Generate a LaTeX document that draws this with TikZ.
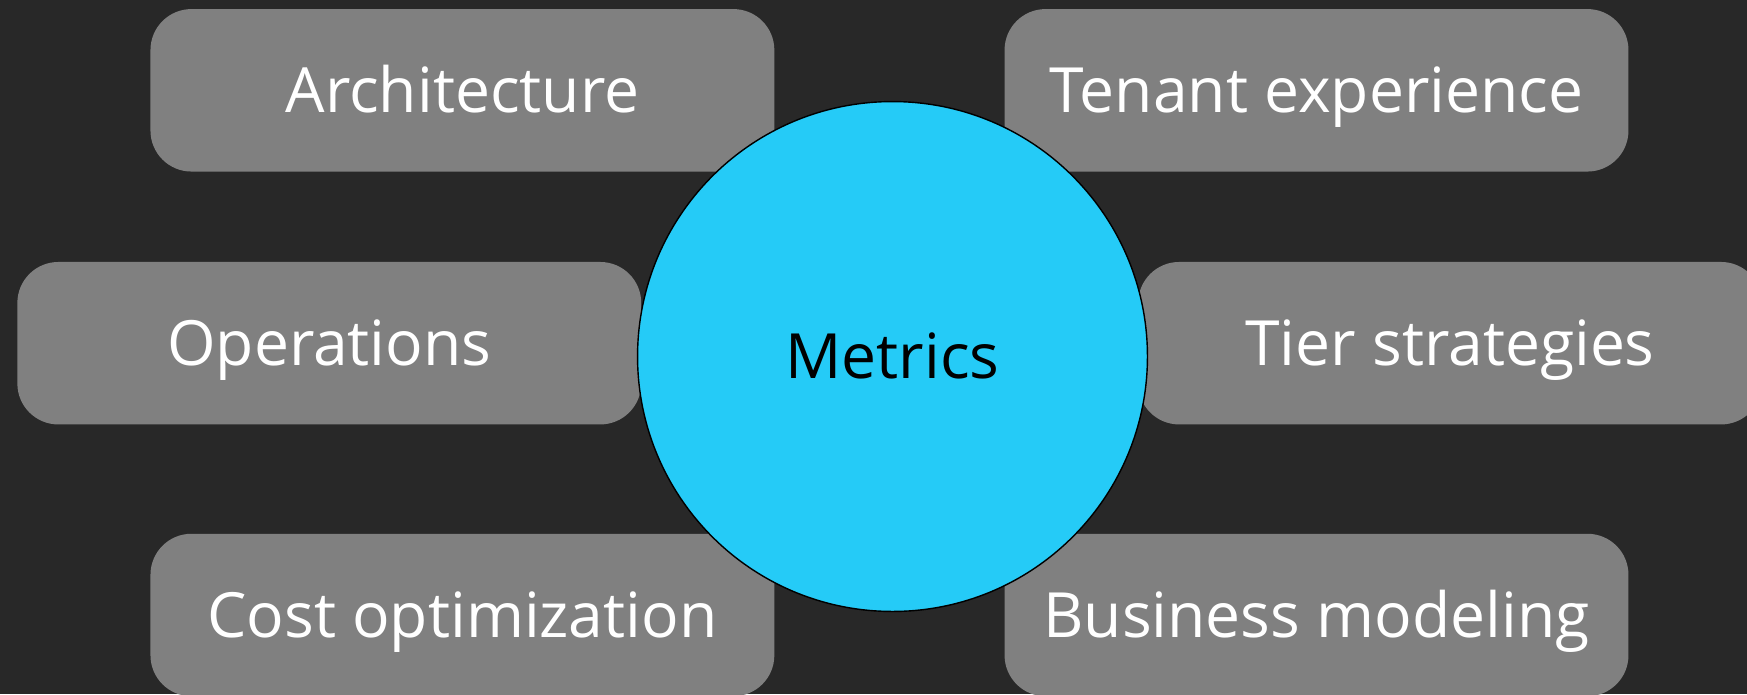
\documentclass[tikz,border=0pt]{standalone}
\usepackage{fontspec}
\setmainfont{Open Sans}
\usepackage{xcolor}
\definecolor{bgdark}{HTML}{282828}
\definecolor{boxgray}{HTML}{808080}
\definecolor{metricblue}{HTML}{25CBF7}

\begin{document}
\begin{tikzpicture}[x=0.02cm,y=-0.02cm,
    topic/.style={fill=boxgray,rounded corners=0.82cm,
        minimum width=12.48cm,minimum height=3.25cm,
        text=white,font=\fontsize{35.5}{42}\selectfont,inner sep=0pt,
        text height=25.3pt,text depth=0pt},
    hub/.style={circle,fill=metricblue,draw=black,line width=0.8pt,
        minimum size=10.2cm,inner sep=0pt,
        font=\fontsize{35.5}{42}\selectfont,
        text height=25.3pt,text depth=0pt}]
          % ------- background -------
          \fill[bgdark] (0,0) rectangle (1747,694);
          \useasboundingbox (0,0) rectangle (1747,694);

          % ------- topic boxes -------
          \node[topic] (arch) at (462.4,90.3)   {Architecture};
          \node[topic] (tenant) at (1316.5,90.3) {Tenant experience};
          \node[topic] (ops) at (329.3,343.2)   {Operations};
          \node[topic] (tier) at (1450.1,343.2) {Tier strategies};
          \node[topic] (cost) at (462.4,615)    {Cost optimization};
          \node[topic] (biz) at (1316.5,615)    {Business modeling};

          % ------- center circle -------
          \node[hub] (metrics) at (892.5,356.5) {Metrics};
\end{tikzpicture}
\end{document}
